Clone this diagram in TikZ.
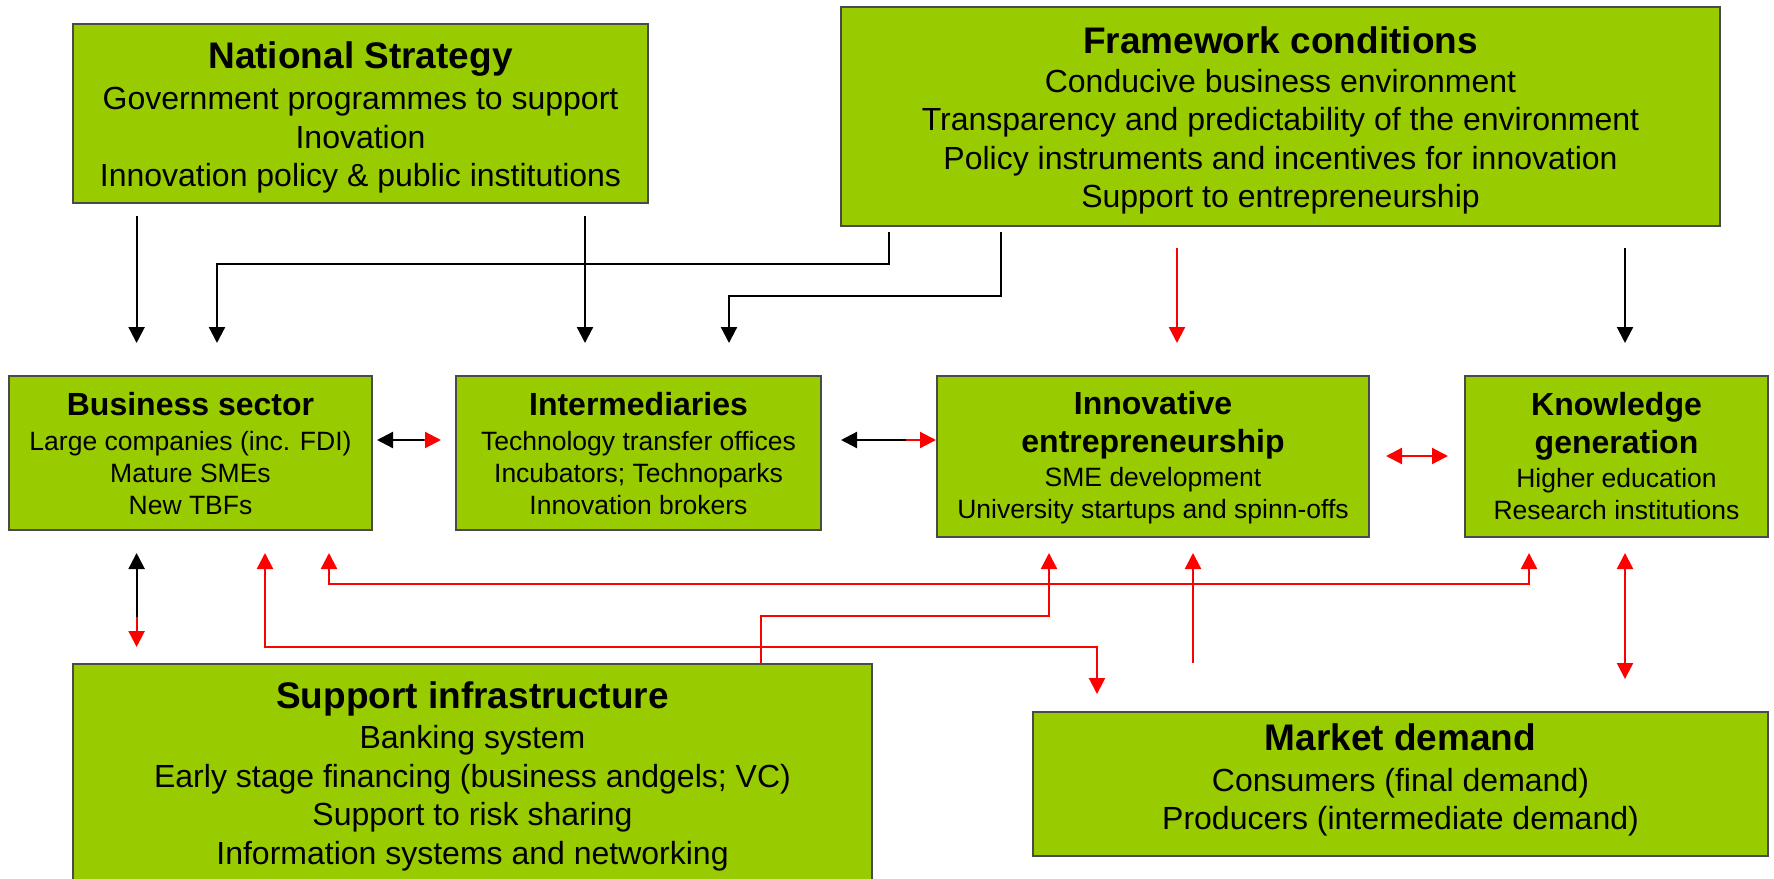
\documentclass[tikz,border=0pt]{standalone}
\usepackage{fontspec}
\setmainfont{Liberation Sans}
\usetikzlibrary{arrows.meta}
\definecolor{boxgreen}{HTML}{99CC00}
\definecolor{boxedge}{HTML}{4A4A4A}
\definecolor{arrred}{HTML}{FF0000}
\newcommand\bigttl[1]{{\fontsize{37}{38.5}\selectfont\bfseries #1}}
\newcommand\smallttl[1]{{\fontsize{32}{32}\selectfont\bfseries #1}}
\tikzset{hd/.tip={Triangle[length=16pt,width=16pt]}}
\begin{document}
\begin{tikzpicture}[x=1pt,y=-1pt,
  box/.style={draw=boxedge, line width=1.5pt, fill=boxgreen, anchor=north west, inner sep=0pt, outer sep=0pt},
  bigtxt/.style={align=center, inner sep=0pt, font=\fontsize{32}{38.5}\selectfont},
  smalltxt/.style={align=center, inner sep=0pt, font=\fontsize{26.5}{32}\selectfont},
  blk/.style={draw=black, line width=2.2pt},
  rd/.style={draw=arrred, line width=2.2pt}
]
\useasboundingbox (0,0) rectangle (1774,878);
\fill[white] (0,0) rectangle (1774,878);
\clip (0,0) rectangle (1774,878);

% boxes
\node[box, minimum width=575pt, minimum height=179pt] (ns) at (73,24) {};
\node[box, minimum width=879pt, minimum height=219pt] (fc) at (841,7) {};
\node[box, minimum width=363pt, minimum height=154pt] (bs) at (9,376) {};
\node[box, minimum width=365pt, minimum height=154pt] (im) at (456,376) {};
\node[box, minimum width=432pt, minimum height=161pt] (ie) at (937,376) {};
\node[box, minimum width=303pt, minimum height=161pt] (kg) at (1465,376) {};
\node[box, minimum width=799pt, minimum height=221pt] (si) at (73,664) {};
\node[box, minimum width=735pt, minimum height=144pt] (md) at (1033,712) {};

% texts
\node[bigtxt, yshift=-4pt] (nst) at (ns.center)
  {\bigttl{National Strategy}\\[2.5pt] Government programmes to support\\ Inovation\\ Innovation policy \& public institutions};
\node[bigtxt, yshift=-4pt] (fct) at (fc.center)
  {\bigttl{Framework conditions}\\[0pt] Conducive business environment\\ Transparency and predictability of the environment\\ Policy instruments and incentives for innovation\\ Support to entrepreneurship};
\node[smalltxt, yshift=-1pt] (bst) at (bs.center)
  {\smallttl{Business sector}\\[3pt] Large companies (inc. FDI)\\ Mature SMEs\\ New TBFs};
\node[smalltxt, yshift=-1pt] (imt) at (im.center)
  {\smallttl{Intermediaries}\\[3pt] Technology transfer offices\\ Incubators; Technoparks\\ Innovation brokers};
\node[smalltxt, yshift=-1pt] (iet) at (ie.center)
  {\smallttl{Innovative}\\[6pt] \smallttl{entrepreneurship}\\[2pt] SME development\\ University startups and spinn-offs};
\node[smalltxt] (kgt) at (kg.center)
  {\smallttl{Knowledge}\\[6pt] \smallttl{generation}\\[2pt] Higher education\\ Research institutions};
\node[bigtxt, yshift=-2pt] (sit) at (si.center)
  {\bigttl{Support infrastructure}\\[1.5pt] Banking system\\ Early stage financing (business andgels; VC)\\ Support to risk sharing\\ Information systems and networking};
\node[bigtxt, yshift=4pt] (mdt) at (md.center)
  {\bigttl{Market demand}\\[2.5pt] Consumers (final demand)\\ Producers (intermediate demand)};

% top connectors
\draw[blk, -{hd}, shorten <=13pt, shorten >=33pt] ([xshift=63.6pt]ns.south west) -- ([xshift=127.6pt]bs.north west);
\draw[blk, -{hd}, shorten <=6pt, shorten >=33pt] ([xshift=48pt]fc.south west) -- ++(0,38) -| ([xshift=208pt]bs.north west);
\draw[blk, -{hd}, shorten <=13pt, shorten >=33pt] ([xshift=512pt]ns.south west) -- ([xshift=129pt]im.north west);
\draw[blk, -{hd}, shorten <=6pt, shorten >=33pt] ([xshift=160pt]fc.south west) -- ++(0,70) -| ([xshift=273pt]im.north west);
\draw[rd, -{hd}, shorten <=22pt, shorten >=33pt] ([xshift=336pt]fc.south west) -- ([xshift=240pt]ie.north west);
\draw[blk, -{hd}, shorten <=22pt, shorten >=33pt] ([xshift=784pt]fc.south west) -- ([xshift=160pt]kg.north west);

% horizontal links
\draw[blk, {hd}-, shorten <=5pt, shorten >=32pt] ([yshift=-64pt]bs.north east) -- ([yshift=-64pt]im.north west);
\draw[rd, -{hd}, shorten <=52pt, shorten >=15pt] ([yshift=-64pt]bs.north east) -- ([yshift=-64pt]im.north west);
\draw[blk, {hd}-, shorten <=20pt, shorten >=31pt] ([yshift=-64pt]im.north east) -- ([yshift=-64pt]ie.north west);
\draw[rd, -{hd}, shorten <=85pt, shorten >=1pt] ([yshift=-64pt]im.north east) -- ([yshift=-64pt]ie.north west);
\draw[rd, {hd}-{hd}, shorten <=17pt, shorten >=17pt] ([yshift=-80pt]ie.north east) -- ([yshift=-80pt]kg.north west);

% bottom connectors
\draw[blk, {hd}-, shorten <=23pt, shorten >=47pt] ([xshift=127.6pt]bs.south west) -- ([xshift=63.6pt]si.north west);
\draw[rd, -{hd}, shorten <=87pt, shorten >=17pt] ([xshift=127.6pt]bs.south west) -- ([xshift=63.6pt]si.north west);
\draw[rd, {hd}-{hd}, shorten <=23pt, shorten >=18pt] ([xshift=256pt]bs.south west) -- ++(0,117) -| ([xshift=64pt]md.north west);
\draw[rd, {hd}-{hd}, shorten <=23pt, shorten >=16pt] ([xshift=320pt]bs.south west) -- ++(0,54) -| ([xshift=64pt]kg.south west);
\draw[rd, -{hd}, shorten >=16pt] ([xshift=688pt]si.north west) -- ++(0,-48) -| ([xshift=112pt]ie.south west);
\draw[rd, -{hd}, shorten <=49pt, shorten >=16pt] ([xshift=160pt]md.north west) -- ([xshift=256pt]ie.south west);
\draw[rd, {hd}-{hd}, shorten <=16pt, shorten >=33pt] ([xshift=160pt]kg.south west) -- ([xshift=592pt]md.north west);
\end{tikzpicture}
\end{document}
